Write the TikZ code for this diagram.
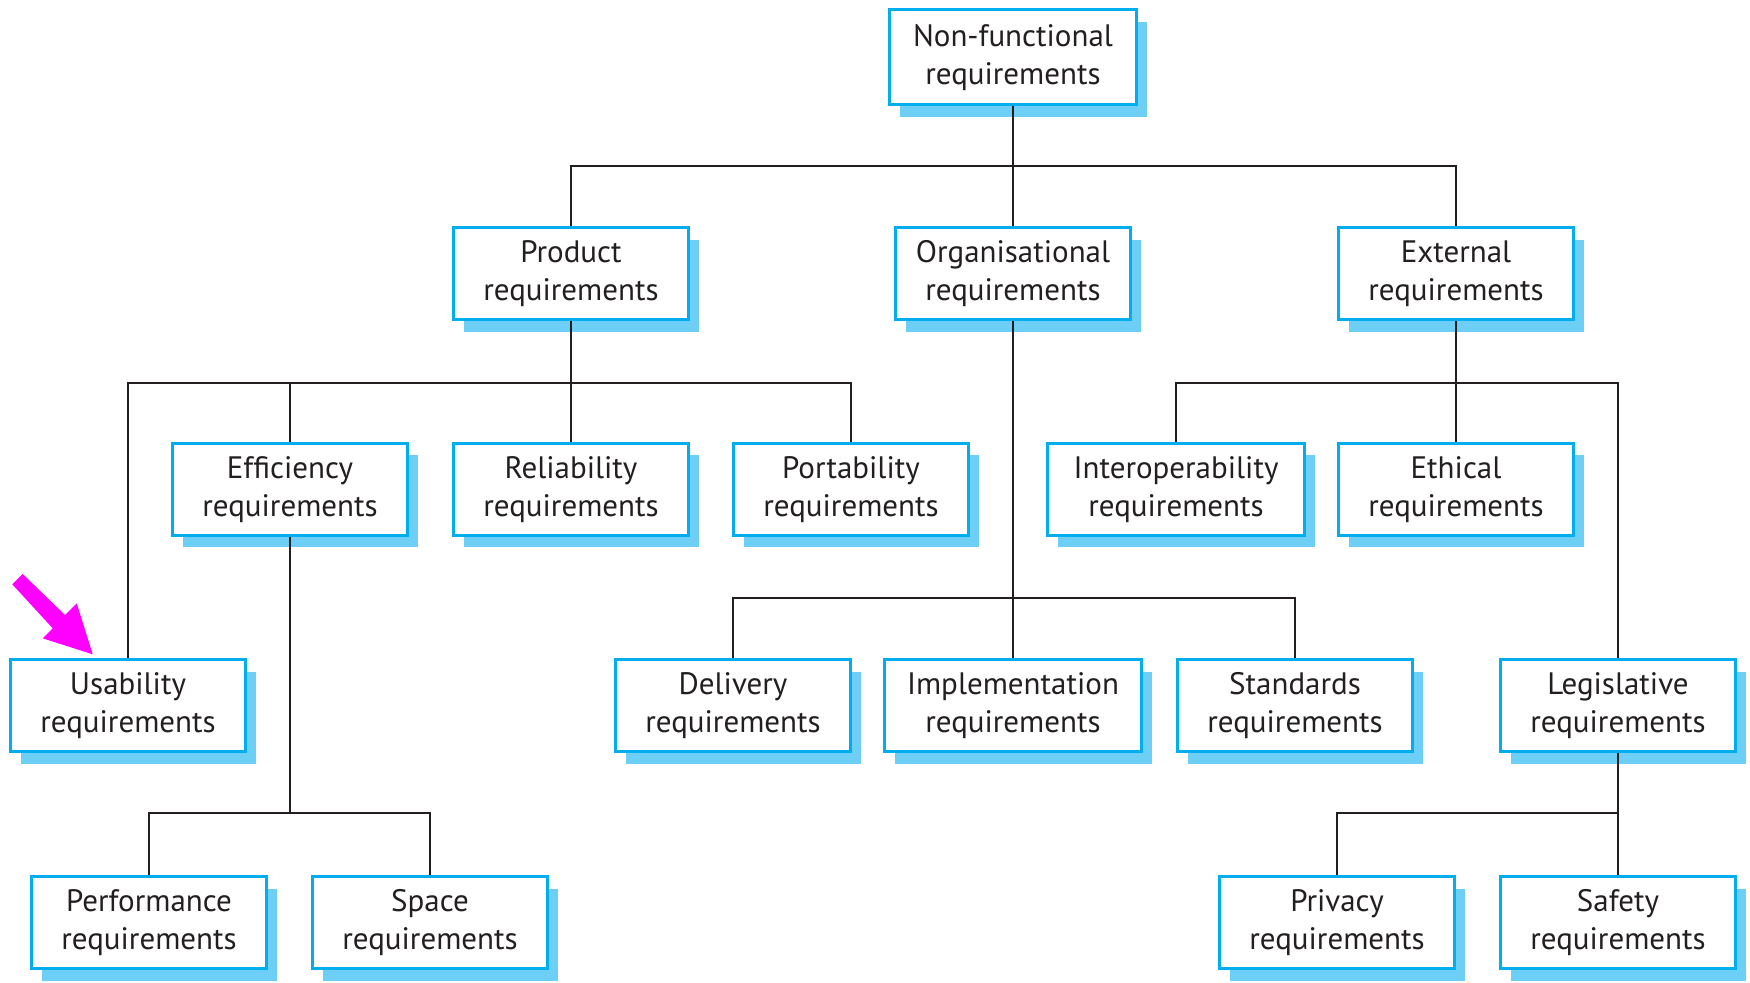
\documentclass[tikz,border=0pt]{standalone}
\usepackage{fontspec}
\setmainfont{PT Sans}
\usetikzlibrary{shadows}
\definecolor{boxblue}{HTML}{00AEEF}
\definecolor{shadowblue}{HTML}{6DCFF6}
\definecolor{ink}{HTML}{231F20}
\definecolor{pointer}{HTML}{FF00FF}
\tikzset{
  req/.style={draw=boxblue, line width=1.5pt, fill=white,
    minimum width=117.5pt, minimum height=46pt, inner sep=0pt,
    align=center, text=ink, font=\fontsize{15.5}{19}\selectfont,
    drop shadow={shadow xshift=5pt, shadow yshift=-6pt, fill=shadowblue, opacity=1}},
  widebox/.style={minimum width=128.5pt},
  topbox/.style={minimum width=123.5pt, minimum height=47.5pt},
  link/.style={draw=ink, line width=1.4pt},
}
\begin{document}
\begin{tikzpicture}[x=0.5pt,y=-0.5pt]
\useasboundingbox (0,0) rectangle (1750,983);
% levels
\coordinate (y1) at (0,166);
\coordinate (y2) at (0,383);
\coordinate (y3) at (0,598);
\coordinate (y4) at (0,813);
% row 1
\node[req,topbox] (nf) at (1013,57.5) {Non-functional\\requirements};
% row 2
\node[req] (prod) at (571,274) {Product\\requirements};
\node[req] (org) at (1013,274) {Organisational\\requirements};
\node[req] (ext) at (1456,274) {External\\requirements};
% row 3
\node[req] (eff) at (290,489.5) {Efficiency\\requirements};
\node[req] (rel) at (571,489.5) {Reliability\\requirements};
\node[req] (port) at (851,489.5) {Portability\\requirements};
\node[req,widebox] (inter) at (1176,489.5) {Interoperability\\requirements};
\node[req] (eth) at (1456,489.5) {Ethical\\requirements};
% row 4
\node[req] (usab) at (128,705.5) {Usability\\requirements};
\node[req] (deliv) at (733,705.5) {Delivery\\requirements};
\node[req,widebox] (impl) at (1013,705.5) {Implementation\\requirements};
\node[req] (stand) at (1295,705.5) {Standards\\requirements};
\node[req] (leg) at (1618,705.5) {Legislative\\requirements};
% row 5
\node[req] (perf) at (149,922.5) {Performance\\requirements};
\node[req] (space) at (430,922.5) {Space\\requirements};
\node[req] (priv) at (1337,922.5) {Privacy\\requirements};
\node[req] (safe) at (1618,922.5) {Safety\\requirements};
% connectors
\draw[link] (nf.south) -- (nf.south |- y1) -| (prod.north);
\draw[link] (nf.south |- y1) -| (ext.north);
\draw[link] (nf.south) -- (org.north);
\draw[link] (prod.south) -- (prod.south |- y2) -| (usab.north);
\draw[link] (prod.south |- y2) -| (eff.north);
\draw[link] (prod.south |- y2) -| (port.north);
\draw[link] (prod.south) -- (rel.north);
\draw[link] (ext.south) -- (ext.south |- y2) -| (inter.north);
\draw[link] (ext.south |- y2) -| (leg.north);
\draw[link] (ext.south) -- (eth.north);
\draw[link] (org.south) -- (org.south |- y3) -| (deliv.north);
\draw[link] (org.south |- y3) -| (stand.north);
\draw[link] (org.south) -- (impl.north);
\draw[link] (eff.south) -- (eff.south |- y4) -| (perf.north);
\draw[link] (eff.south |- y4) -| (space.north);
\draw[link] (leg.south) -- (leg.south |- y4) -| (priv.north);
\draw[link] (leg.south) -- (safe.north);
% magenta pointer
\fill[pointer] (12.3,584.3) -- (22.7,574) -- (65,615) -- (76.7,603.3)
  -- (92.7,654.3) -- (42.7,638.3) -- (52.7,628.3) -- cycle;
\end{tikzpicture}
\end{document}
